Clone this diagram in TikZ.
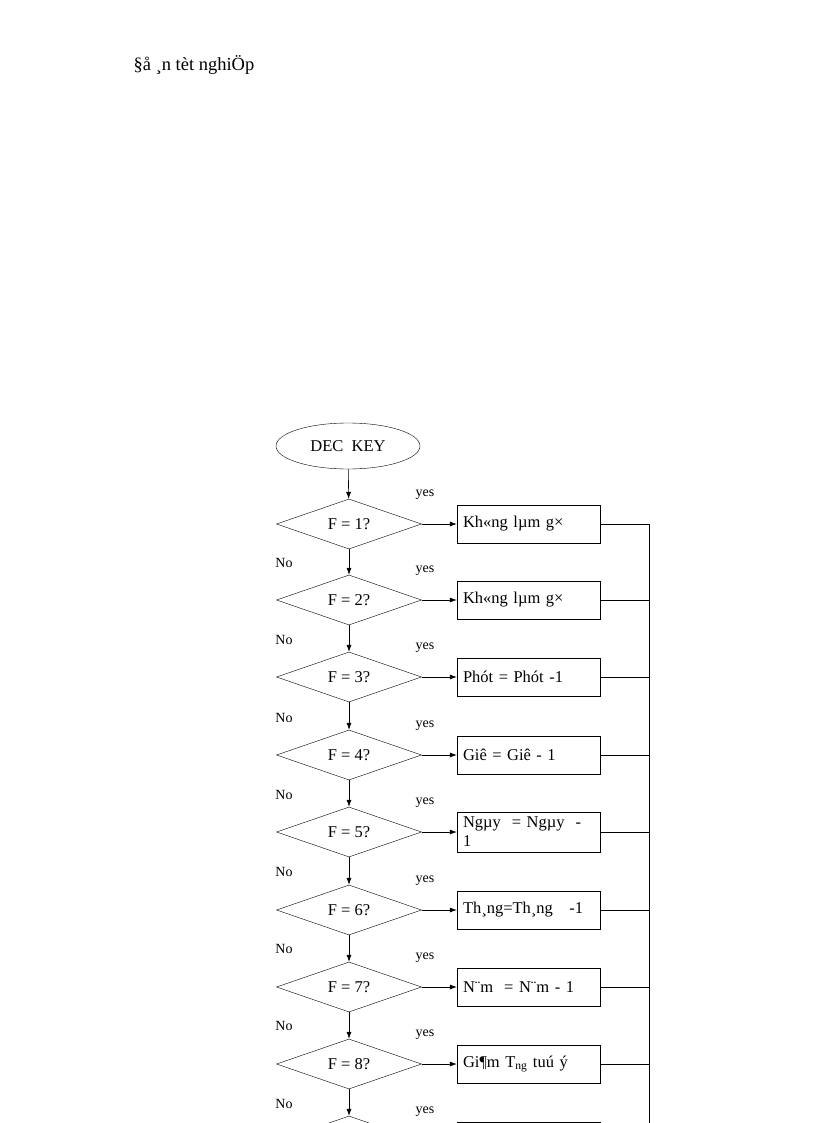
\documentclass[tikz,border=0pt]{standalone}
\usepackage{fontspec}
\setmainfont{Liberation Serif}
\usetikzlibrary{shapes.geometric,arrows.meta}
\begin{document}
\begin{tikzpicture}[x=1pt,y=-1pt,
  every node/.style={font=\fontsize{16.5}{19}\selectfont},
  dec/.style={draw,diamond,minimum width=145pt,minimum height=50pt,aspect=2.9,inner sep=0pt},
  act/.style={draw,rectangle,minimum width=143pt,minimum height=38pt,text width=131pt,align=left,inner sep=5pt},
  arr/.style={-{Latex[length=7pt,width=5pt]},line width=0.6pt},
  ln/.style={line width=0.6pt},
  lbl/.style={font=\fontsize{14}{16}\selectfont}]
\useasboundingbox (0,0) rectangle (816,1123);
\clip (0,0) rectangle (816,1123);
\node[anchor=west,font=\fontsize{18.5}{21}\selectfont] (title) at (130,65) {§å ¸n tèt nghiÖp};
\node[draw,ellipse,minimum width=144pt,minimum height=46pt,inner sep=0pt] (start) at (348,446) {DEC\ \ KEY};
\foreach \i/\y/\t/\q in {1/524/{Kh«ng lµm g×}/{F = 1?},2/600/{Kh«ng lµm g×}/{F = 2?},3/677/{Phót = Phót -1}/{F = 3?},4/755/{Giê = Giê - 1}/{F = 4?},5/832/{Ngµy \ = Ngµy \ - 1}/{F = 5?},6/910/{Th¸ng=Th¸ng\quad -1}/{F = 6?},7/987/{N¨m \ = N¨m - 1}/{F = 7?},8/1064/{Gi¶m T$_{\mathrm{ng}}$ tuú ý}/{F = 8?},9/1141/{}/{}}{
  \node[dec] (d\i) at (349,\y) {\q};
  \node[act] (b\i) at (528.5,\y) {\t};
  \draw[arr] (d\i.east) -- (b\i.west);
  \draw[ln] (b\i.east) -- (649,\y);
  \node[lbl] (y\i) at (425,\y-29) {yes};
}
\foreach \i in {1,...,8}{\node[lbl] (n\i) at (284,\i*77.2+486) {No};}
\coordinate (bus) at (649,1123);
\draw[ln] (649,524) -- (bus);
\draw[arr] (start) -- (d1);
\foreach \i [evaluate=\i as \j using int(\i+1)] in {1,...,8}{\draw[arr] (d\i) -- (d\j);}
\end{tikzpicture}
\end{document}
